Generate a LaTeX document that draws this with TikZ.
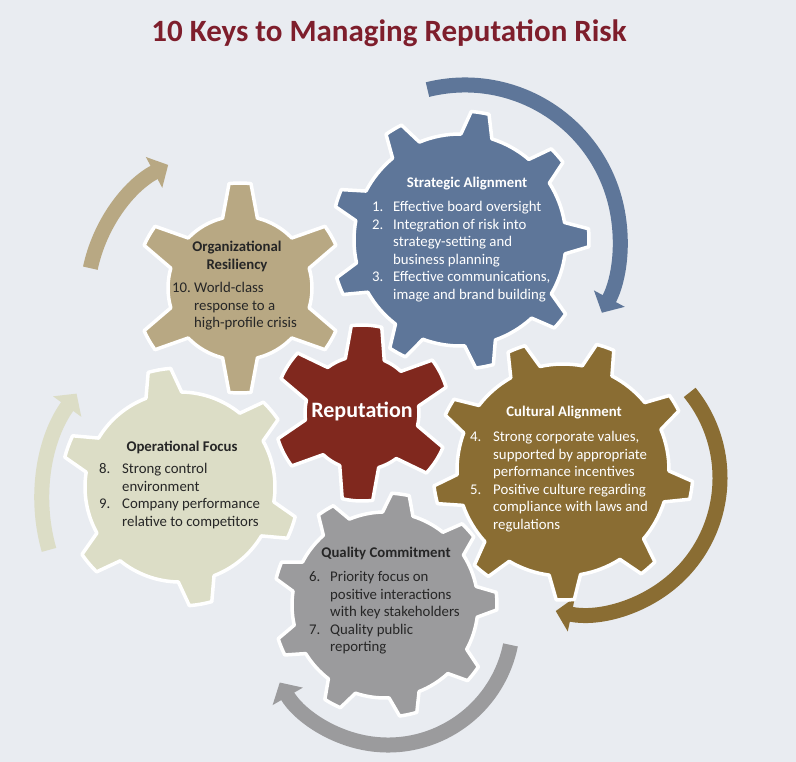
\documentclass[tikz,border=0pt]{standalone}
\usepackage{fontspec}
\setmainfont{Carlito}
\usetikzlibrary{arrows.meta}

\definecolor{bgpaper}{HTML}{E9ECF1}
\definecolor{titlered}{HTML}{7E1E2C}
\definecolor{gearblue}{HTML}{5E7699}
\definecolor{geartan}{HTML}{B8A883}
\definecolor{gearred}{HTML}{80281E}
\definecolor{gearbrown}{HTML}{8A6D33}
\definecolor{gearolive}{HTML}{DCDDC6}
\definecolor{geargray}{HTML}{9B9B9D}
\definecolor{darktext}{HTML}{262626}

% centre, teeth, inner radius, outer radius, first tooth, half root, half tip, colour
\newcommand{\drawgear}[8]{%
  \begin{scope}[shift={(#1)}]
    \pgfmathsetmacro{\gstep}{360/#2}
    \filldraw[fill=#8, draw=white, line width=3.5pt, line join=round]
      ({#5-#6}:#3pt)
      \foreach \t in {1,...,#2} {
        -- ({#5+(\t-1)*\gstep-#7}:#4pt)
        arc[start angle={#5+(\t-1)*\gstep-#7}, delta angle={2*#7}, radius=#4pt]
        -- ({#5+(\t-1)*\gstep+#6}:#3pt)
        arc[start angle={#5+(\t-1)*\gstep+#6}, delta angle={\gstep-2*#6}, radius=#3pt]
      } -- cycle;
  \end{scope}}

% centre, radius, start, end, colour
\newcommand{\turnarrow}[5]{%
  \draw[#5, line width=15pt, -{Triangle[width=34pt,length=16pt]}]
    ([shift={(#1)}]#3:#2pt) arc[start angle=#3, end angle=#4, radius=#2pt];}

\begin{document}
\begin{tikzpicture}[x=1pt,y=1pt,
    keyhead/.style={font=\bfseries\fontsize{14.8}{17.6}\selectfont, inner sep=0pt, align=center},
    keylist/.style={font=\fontsize{14.8}{17.6}\selectfont, inner sep=0pt, anchor=base west}]
  \fill[bgpaper] (0,0) rectangle (796,-762);
  \useasboundingbox (0,0) rectangle (796,-762);

  \node[font=\bfseries\fontsize{31}{36}\selectfont, text=titlered] (title) at (389,-33) {10 Keys to Managing Reputation Risk};

  % turning arrows
  \turnarrow{465,-240}{155}{104}{-28}{gearblue}
  \turnarrow{240,-300}{153}{168}{118}{geartan}
  \turnarrow{223,-500}{181}{196}{144}{gearolive}
  \turnarrow{584,-478}{136}{39}{-102}{gearbrown}
  \turnarrow{388,-620}{125}{-11.5}{-150}{geargray}

  % gears
  \drawgear{240,-288}{6}{72}{105}{30}{14}{6}{geartan}
  \drawgear{460,-240}{9}{106}{129}{1}{8.5}{4}{gearblue}
  \drawgear{180,-487}{6}{95}{119}{40}{11}{5.5}{gearolive}
  \drawgear{563,-470}{9}{106}{130}{31}{8.5}{4}{gearbrown}
  \drawgear{385,-605}{9}{93}{112}{2}{9.5}{4.5}{geargray}
  \drawgear{362,-413}{6}{57}{88}{27}{20}{10}{gearred}

  \node[font=\bfseries\fontsize{22}{26}\selectfont, text=white] (reputation) at (362,-411) {Reputation};

  \node[keyhead, text=white] (strategic) at (467,-184) {Strategic Alignment};
  \node[keylist, text=white] (strategic-keys) at (372,-211.5) {\begin{tabular}[t]{@{}p{21pt}@{}l@{}}
    1. & Effective board oversight\\
    2. & Integration of risk into\\
       & strategy-setting and\\
       & business planning\\
    3. & Effective communications,\\
       & image and brand building
  \end{tabular}};

  \node[keyhead, text=white] (cultural) at (564,-413) {Cultural Alignment};
  \node[keylist, text=white] (cultural-keys) at (470,-441.5) {\begin{tabular}[t]{@{}p{23pt}@{}l@{}}
    4. & Strong corporate values,\\
       & supported by appropriate\\
       & performance incentives\\
    5. & Positive culture regarding\\
       & compliance with laws and\\
       & regulations
  \end{tabular}};

  \node[keyhead, text=darktext] (quality) at (386,-553) {Quality Commitment};
  \node[keylist, text=darktext] (quality-keys) at (309,-581.5) {\begin{tabular}[t]{@{}p{21pt}@{}l@{}}
    6. & Priority focus on\\
       & positive interactions\\
       & with key stakeholders\\
    7. & Quality public\\
       & reporting
  \end{tabular}};

  \node[keyhead, text=darktext] (operational) at (182,-447) {Operational Focus};
  \node[keylist, text=darktext] (operational-keys) at (99,-473.5) {\begin{tabular}[t]{@{}p{23pt}@{}l@{}}
    8. & Strong control\\
       & environment\\
    9. & Company performance\\
       & relative to competitors
  \end{tabular}};

  \node[keyhead, text=darktext] (resiliency) at (237,-256.5) {Organizational\\Resiliency};
  \node[keylist, text=darktext] (resiliency-keys) at (172,-292.5) {\begin{tabular}[t]{@{}p{22pt}@{}l@{}}
    10. & World-class\\
        & response to a\\
        & high-profile crisis
  \end{tabular}};
\end{tikzpicture}
\end{document}
